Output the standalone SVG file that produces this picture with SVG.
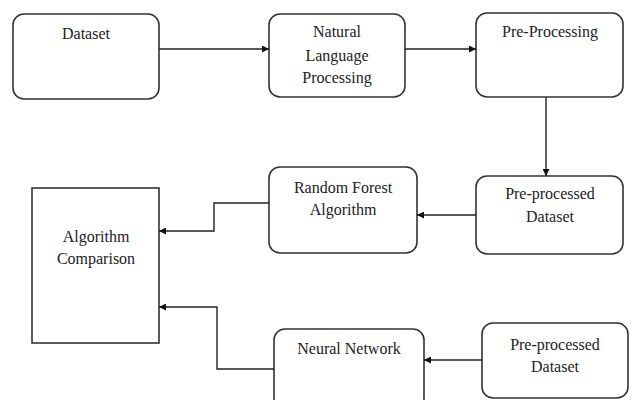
<svg xmlns="http://www.w3.org/2000/svg" width="633" height="400" viewBox="0 0 633 400">
<defs>
<style>
.box{fill:#fff;stroke:#333;stroke-width:1.6}
text{font-family:'Liberation Serif','Times New Roman',Times,serif;font-size:16px;fill:#222;text-anchor:middle}
.c{fill:none;stroke:#222;stroke-width:1.4}
</style>
<marker id="ah" viewBox="0 0 10 10" refX="10" refY="5" markerWidth="7" markerHeight="7" markerUnits="userSpaceOnUse" orient="auto">
<path d="M0,0 L10,5 L0,10 z" fill="#111"/>
</marker>
</defs>
<rect width="633" height="400" fill="#fff"/>
<g id="dataset">
<rect class="box" x="13" y="14" width="146" height="85" rx="11"/>
<text x="86" y="39">Dataset</text>
</g>
<g id="nlp">
<rect class="box" x="269" y="14" width="136" height="83" rx="11"/>
<text x="337" y="37">Natural</text>
<text x="337" y="61">Language</text>
<text x="337" y="83">Processing</text>
</g>
<g id="preprocessing">
<rect class="box" x="476" y="13" width="147" height="84" rx="11"/>
<text x="550" y="37">Pre-Processing</text>
</g>
<g id="preprocessed1">
<rect class="box" x="476" y="176" width="147" height="78" rx="11"/>
<text x="550" y="199">Pre-processed</text>
<text x="550" y="222">Dataset</text>
</g>
<g id="randomforest">
<rect class="box" x="269" y="167" width="148" height="86" rx="11"/>
<text x="343" y="193">Random Forest</text>
<text x="343" y="215">Algorithm</text>
</g>
<g id="comparison">
<rect class="box" x="32" y="188" width="127" height="155"/>
<text x="96" y="242">Algorithm</text>
<text x="96" y="264">Comparison</text>
</g>
<g id="neuralnetwork">
<rect class="box" x="274" y="329" width="150" height="80" rx="11"/>
<text x="349" y="354">Neural Network</text>
</g>
<g id="preprocessed2">
<rect class="box" x="482" y="323" width="146" height="75" rx="11"/>
<text x="555" y="350">Pre-processed</text>
<text x="555" y="372">Dataset</text>
</g>
<g id="connectors">
<path class="c" d="M159,49 L269,49" marker-end="url(#ah)"/>
<path class="c" d="M405,49 L476,49" marker-end="url(#ah)"/>
<path class="c" d="M546,97 L546,176" marker-end="url(#ah)"/>
<path class="c" d="M476,215 L417,215" marker-end="url(#ah)"/>
<path class="c" d="M269,203 L214,203 L214,231 L159,231" marker-end="url(#ah)"/>
<path class="c" d="M482,360 L424,360" marker-end="url(#ah)"/>
<path class="c" d="M274,369 L217,369 L217,307 L159,307" marker-end="url(#ah)"/>
</g>
</svg>
